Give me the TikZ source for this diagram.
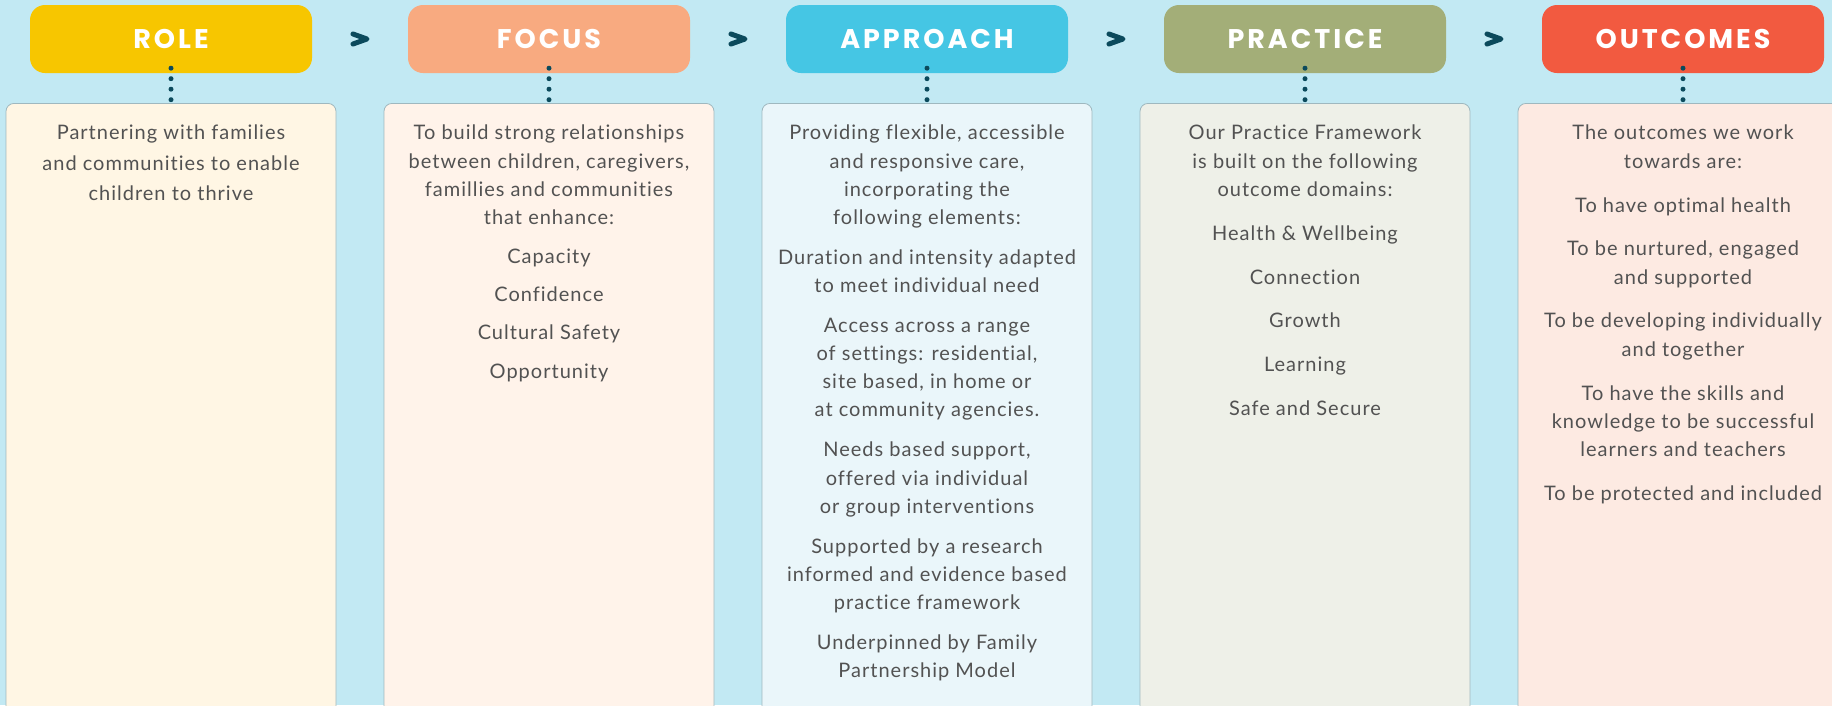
\documentclass[tikz,border=0pt]{standalone}
\usepackage{fontspec}
\setmainfont{Lato}[LetterSpace=5, Ligatures=CommonOff]
\newfontfamily\headfont{Poppins}[LetterSpace=11]
\usetikzlibrary{calc}

\definecolor{bgblue}{HTML}{C2E9F3}
\definecolor{roleyellow}{HTML}{F7C600}
\definecolor{focuspeach}{HTML}{F8AA80}
\definecolor{approachblue}{HTML}{45C6E4}
\definecolor{practiceolive}{HTML}{A3AE78}
\definecolor{outcomesred}{HTML}{F25A40}
\definecolor{rolepale}{HTML}{FFF6E4}
\definecolor{focuspale}{HTML}{FFF3EA}
\definecolor{approachpale}{HTML}{EAF6FA}
\definecolor{practicepale}{HTML}{EEF0E8}
\definecolor{outcomespale}{HTML}{FDEAE2}
\definecolor{panelline}{HTML}{9FB8BF}
\definecolor{darkteal}{HTML}{0B4A5C}
\definecolor{textgrey}{HTML}{525252}

\tikzset{
  head/.style={rectangle, rounded corners=15pt, minimum width=282pt, minimum height=68pt,
    inner sep=0pt, text=white, font=\headfont\bfseries\fontsize{27}{27}\selectfont},
  panel/.style={rectangle, rounded corners=8pt, minimum width=330pt, minimum height=620pt,
    draw=panelline, line width=0.8pt, anchor=north},
  blurb/.style={anchor=north, align=center, text=textgrey, inner sep=0pt,
    font=\fontsize{20}{28.3}\selectfont},
  chevron/.style={draw=darkteal, line width=5pt, line cap=round, line join=round},
  linkdots/.style={draw=darkteal, line width=5pt, line cap=round, dash pattern=on 0pt off 10.5pt}
}

\begin{document}
\begin{tikzpicture}[x=1pt,y=1pt,yscale=-1]
  \useasboundingbox (0,0) rectangle (1832,705);
  \clip (0,0) rectangle (1832,705);
  \fill[bgblue] (0,0) rectangle (1832,705);

  % headers
  \node[head, fill=roleyellow] (roleh) at (171,39) {ROLE};
  \node[head, fill=focuspeach] (focush) at (549,39) {FOCUS};
  \node[head, fill=approachblue] (approachh) at (927,39) {APPROACH};
  \node[head, fill=practiceolive] (practiceh) at (1305,39) {PRACTICE};
  \node[head, fill=outcomesred] (outcomesh) at (1683,39) {OUTCOMES};

  % panels
  \node[panel, fill=rolepale] (roleb) at (171,103) {};
  \node[panel, fill=focuspale] (focusb) at (549,103) {};
  \node[panel, fill=approachpale] (approachb) at (927,103) {};
  \node[panel, fill=practicepale] (practiceb) at (1305,103) {};
  \node[panel, fill=outcomespale] (outcomesb) at (1683,103) {};

  % chevrons between headers
  \foreach \a/\b in {roleh/focush, focush/approachh, approachh/practiceh, practiceh/outcomesh}{
    \coordinate (mid) at ($(\a.east)!0.5!(\b.west)$);
    \draw[chevron] ([shift={(-7,-5)}]mid) -- ([shift={(7,0)}]mid) -- ([shift={(-7,5)}]mid);
  }

  % dotted links
  \draw[linkdots] ([yshift=-5pt]roleh.south) -- (roleb.north);
  \draw[linkdots] ([yshift=-5pt]focush.south) -- (focusb.north);
  \draw[linkdots] ([yshift=-5pt]approachh.south) -- (approachb.north);
  \draw[linkdots] ([yshift=-5pt]practiceh.south) -- (practiceb.north);
  \draw[linkdots] ([yshift=-5pt]outcomesh.south) -- (outcomesb.north);

  % texts
  \node[blurb, font=\fontsize{20}{30.3}\selectfont] (roletxt) at (171,125)
    {Partnering with families\\and communities to enable\\children to thrive};
  \node[blurb] (focustxt) at (549,125)
    {To build strong relationships\\between children, caregivers,\\famillies and communities\\that enhance:\\[10pt]
     Capacity\\[10pt]Confidence\\[10pt]Cultural Safety\\[10pt]Opportunity};
  \node[blurb, font=\fontsize{20}{28.1}\selectfont] (approachtxt) at (927,125)
    {Providing flexible, accessible\\and responsive care,\\incorporating the\\following elements:\\[12pt]
     Duration and intensity adapted\\to meet individual need\\[12pt]
     Access across a range\\of settings: residential,\\site based, in home or\\at community agencies.\\[12pt]
     Needs based support,\\offered via individual\\or group interventions\\[12pt]
     Supported by a research\\informed and evidence based\\practice framework\\[12pt]
     Underpinned by Family\\Partnership Model};
  \node[blurb] (practicetxt) at (1305,125)
    {Our Practice Framework\\is built on the following\\outcome domains:\\[15.5pt]
     Health \& Wellbeing\\[15.5pt]Connection\\[15.5pt]Growth\\[15.5pt]Learning\\[15.5pt]Safe and Secure};
  \node[blurb] (outcomestxt) at (1683,125)
    {The outcomes we work\\towards are:\\[15.5pt]
     To have optimal health\\[15.5pt]
     To be nurtured, engaged\\and supported\\[15.5pt]
     To be developing individually\\and together\\[15.5pt]
     To have the skills and\\knowledge to be successful\\learners and teachers\\[15.5pt]
     To be protected and included};
\end{tikzpicture}
\end{document}
